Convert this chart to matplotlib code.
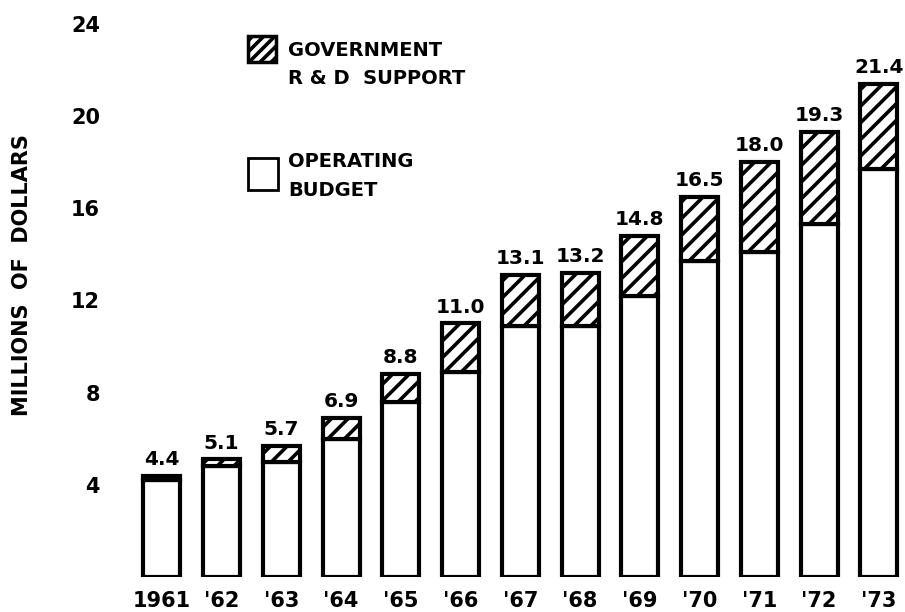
import matplotlib
matplotlib.use("Agg")
import matplotlib.pyplot as plt
from matplotlib.patches import Rectangle

# --- data (millions of dollars) ---
years = ["1961", "'62", "'63", "'64", "'65", "'66", "'67",
         "'68", "'69", "'70", "'71", "'72", "'73"]
totals = [4.4, 5.1, 5.7, 6.9, 8.8, 11.0, 13.1, 13.2, 14.8, 16.5, 18.0, 19.3, 21.4]
operating = [4.2, 4.8, 5.0, 6.0, 7.6, 8.9, 10.9, 10.9, 12.2, 13.7, 14.1, 15.3, 17.7]
total_labels = ["4.4", "5.1", "5.7", "6.9", "8.8", "11.0", "13.1",
                "13.2", "14.8", "16.5", "18.0", "19.3", "21.4"]
yticks = [4, 8, 12, 16, 20, 24]

rd_support = [t - o for t, o in zip(totals, operating)]

plt.rcParams["font.family"] = "DejaVu Sans"
plt.rcParams["font.weight"] = "bold"
plt.rcParams["hatch.linewidth"] = 2.6

fig = plt.figure(figsize=(9.05, 6.12), dpi=100)
ax = fig.add_axes([0.1459, 0.0572, 0.8517, 0.934])

x = list(range(len(years)))
bar_w = 0.62

ax.bar(x, operating, width=bar_w, color="white", edgecolor="black", linewidth=3)
ax.bar(x, rd_support, width=bar_w, bottom=operating, color="white",
       edgecolor="black", linewidth=3, hatch="//")

for xi, t, lab in zip(x, totals, total_labels):
    ax.annotate(lab, (xi, t), xytext=(0, 5), textcoords="offset points",
                ha="center", va="bottom", fontsize=14.5)

ax.set_xlim(-0.5, 12.4)
ax.set_ylim(0, 24.8)
ax.set_xticks(x)
ax.set_xticklabels(years, fontsize=15)
ax.set_yticks(yticks)
ax.set_yticklabels([str(v) for v in yticks], fontsize=15)
ax.tick_params(axis="both", length=0)
ax.tick_params(axis="y", pad=23)
ax.tick_params(axis="x", pad=10)
for s in ax.spines.values():
    s.set_visible(False)

fig.text(22 / 905, 1 - 275 / 612, "MILLIONS  OF  DOLLARS", rotation=90,
         ha="center", va="center", fontsize=15)

# legend drawn by hand
fig.patches.append(Rectangle((248 / 905, 1 - 62 / 612), 28 / 905, 26 / 612,
                             transform=fig.transFigure, facecolor="white",
                             edgecolor="black", linewidth=2.5, hatch="///"))
fig.patches.append(Rectangle((248 / 905, 1 - 190 / 612), 30 / 905, 32 / 612,
                             transform=fig.transFigure, facecolor="white",
                             edgecolor="black", linewidth=2))
fig.text(288 / 905, 1 - 50 / 612, "GOVERNMENT", ha="left", va="center", fontsize=14)
fig.text(288 / 905, 1 - 79 / 612, "R & D  SUPPORT", ha="left", va="center", fontsize=14)
fig.text(288 / 905, 1 - 162 / 612, "OPERATING", ha="left", va="center", fontsize=14)
fig.text(288 / 905, 1 - 190 / 612, "BUDGET", ha="left", va="center", fontsize=14)

fig.savefig("out.png", dpi=100)
